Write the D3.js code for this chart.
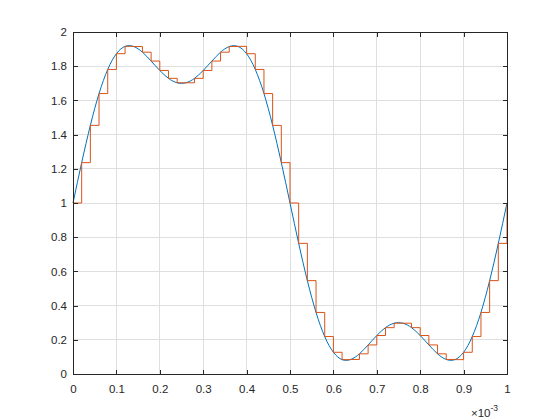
<!DOCTYPE html>
<html>
<head>
<meta charset="utf-8">
<script src="https://cdn.jsdelivr.net/npm/d3@7"></script>
<style>
    html, body { margin: 0; padding: 0; background: #fff; }
    svg { display: block; font-family: "Liberation Sans", Arial, sans-serif; }
</style>
</head>
<body>
<svg id="chart" width="560" height="420"></svg>
<script>
// sample instants, in units of 1e-3 s (step 0.02e-3 s)
var sampleTimes = [
    0, 0.02, 0.04, 0.06, 0.08, 0.10, 0.12, 0.14, 0.16, 0.18,
    0.20, 0.22, 0.24, 0.26, 0.28, 0.30, 0.32, 0.34, 0.36, 0.38,
    0.40, 0.42, 0.44, 0.46, 0.48, 0.50, 0.52, 0.54, 0.56, 0.58,
    0.60, 0.62, 0.64, 0.66, 0.68, 0.70, 0.72, 0.74, 0.76, 0.78,
    0.80, 0.82, 0.84, 0.86, 0.88, 0.90, 0.92, 0.94, 0.96, 0.98, 1.00
];

// signal values (held by the staircase)
var sampleValues = [
    1.000, 1.236, 1.454, 1.640, 1.781, 1.873, 1.916, 1.915, 1.882, 1.830,
    1.775, 1.729, 1.703, 1.703, 1.729, 1.775, 1.830, 1.882, 1.915, 1.916,
    1.873, 1.781, 1.640, 1.454, 1.236, 1.000, 0.764, 0.546, 0.360, 0.219,
    0.127, 0.084, 0.085, 0.118, 0.170, 0.225, 0.271, 0.297, 0.297, 0.271,
    0.225, 0.170, 0.118, 0.085, 0.084, 0.127, 0.219, 0.360, 0.546, 0.764, 1.000
];

var xTicks = [0, 0.1, 0.2, 0.3, 0.4, 0.5, 0.6, 0.7, 0.8, 0.9, 1];
var xTickLabels = ["0", "0.1", "0.2", "0.3", "0.4", "0.5", "0.6", "0.7", "0.8", "0.9", "1"];
var yTicks = [0, 0.2, 0.4, 0.6, 0.8, 1, 1.2, 1.4, 1.6, 1.8, 2];
var yTickLabels = ["0", "0.2", "0.4", "0.6", "0.8", "1", "1.2", "1.4", "1.6", "1.8", "2"];

(function () {

    var svg = d3.select('#chart'),
        left = 73, right = 507, top = 32, bottom = 374,
        tickLen = 4.5,
        axisColor = "#262626",
        points = sampleTimes.map(function (t, i) { return [t, sampleValues[i]]; });

    var x = d3.scaleLinear().domain([0, 1]).range([left, right]),
        y = d3.scaleLinear().domain([0, 2]).range([bottom, top]);

    svg.append("rect")
        .attr("width", 560).attr("height", 420)
        .attr("fill", "#fff");

    // grid
    var grid = svg.append("g")
        .attr("stroke", "#dfdfdf")
        .attr("stroke-width", 1)
        .attr("shape-rendering", "crispEdges");

    grid.selectAll("line.vx")
        .data(xTicks)
        .enter().append("line")
            .attr("x1", function (d) { return x(d); })
            .attr("x2", function (d) { return x(d); })
            .attr("y1", top)
            .attr("y2", bottom);

    grid.selectAll("line.hy")
        .data(yTicks)
        .enter().append("line")
            .attr("x1", left)
            .attr("x2", right)
            .attr("y1", function (d) { return y(d); })
            .attr("y2", function (d) { return y(d); });

    // continuous signal
    svg.append("path")
        .datum(points)
        .attr("fill", "none")
        .attr("stroke", "#0072BD")
        .attr("stroke-width", 1)
        .attr("d", d3.line()
            .x(function (d) { return x(d[0]); })
            .y(function (d) { return y(d[1]); })
            .curve(d3.curveNatural));

    // zero-order hold
    svg.append("path")
        .datum(points)
        .attr("fill", "none")
        .attr("stroke", "#D95319")
        .attr("stroke-width", 1)
        .attr("d", d3.line()
            .x(function (d) { return x(d[0]); })
            .y(function (d) { return y(d[1]); })
            .curve(d3.curveStepAfter));

    function styleAxis(g) {
        g.attr("font-family", null).attr("font-size", null);
        g.select(".domain").attr("stroke", axisColor).attr("shape-rendering", "crispEdges");
        g.selectAll(".tick line").attr("stroke", axisColor).attr("shape-rendering", "crispEdges");
        g.selectAll(".tick text")
            .attr("fill", axisColor)
            .style("font-size", "11.5px");
    }

    svg.append("g")
        .attr("transform", "translate(0," + bottom + ")")
        .call(d3.axisBottom(x)
            .tickValues(xTicks)
            .tickFormat(function (d, i) { return xTickLabels[i]; })
            .tickSizeInner(-tickLen)
            .tickSizeOuter(0)
            .tickPadding(11))
        .call(styleAxis);

    svg.append("g")
        .attr("transform", "translate(" + left + ",0)")
        .call(d3.axisLeft(y)
            .tickValues(yTicks)
            .tickFormat(function (d, i) { return yTickLabels[i]; })
            .tickSizeInner(-tickLen)
            .tickSizeOuter(0)
            .tickPadding(6))
        .call(styleAxis);

    svg.append("g")
        .attr("transform", "translate(0," + top + ")")
        .call(d3.axisTop(x)
            .tickValues(xTicks)
            .tickFormat("")
            .tickSizeInner(-tickLen)
            .tickSizeOuter(0))
        .call(styleAxis);

    svg.append("g")
        .attr("transform", "translate(" + right + ",0)")
        .call(d3.axisRight(y)
            .tickValues(yTicks)
            .tickFormat("")
            .tickSizeInner(-tickLen)
            .tickSizeOuter(0))
        .call(styleAxis);

    // exponent label
    var expo = svg.append("text")
        .attr("x", 498)
        .attr("y", 416.5)
        .attr("text-anchor", "end")
        .attr("fill", axisColor)
        .style("font-size", "11.5px");
    expo.append("tspan").text("\u00d710");
    expo.append("tspan")
        .attr("dy", -6)
        .style("font-size", "8.5px")
        .text("-3");

}());
</script>
</body>
</html>
